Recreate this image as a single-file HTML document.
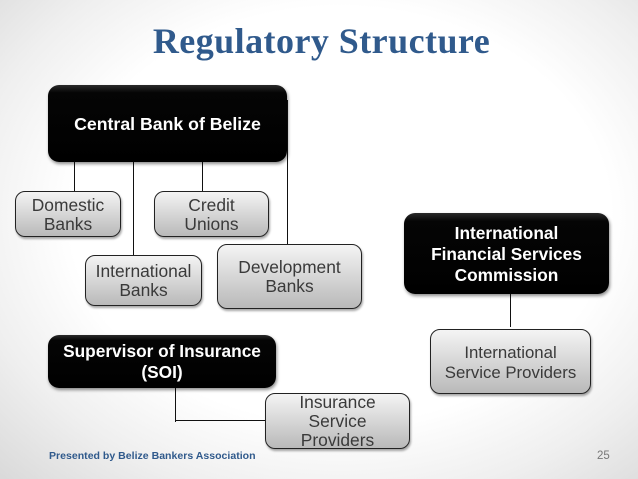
<!DOCTYPE html>
<html><head><meta charset="utf-8"><style>
html,body{margin:0;padding:0;background:#fff}
#s{position:relative;width:638px;height:479px;overflow:hidden;font-family:"Liberation Sans",sans-serif;
background:radial-gradient(ellipse 520px 400px at 340px 215px,#fff 0%,#fff 52%,#efefef 72%,#d2d2d2 100%)}
.b{position:absolute;box-sizing:border-box;display:flex;align-items:center;justify-content:center;text-align:center}
.k{background:linear-gradient(#2a2a2a 0,#050505 10%,#000 100%);border-radius:11px;color:#fff;font-weight:bold;font-size:17.3px;line-height:21px;box-shadow:1px 2px 3px rgba(0,0,0,.45)}
.g{background:linear-gradient(#f4f4f4,#b9b9b9);border:1.3px solid #222;border-radius:10px;color:#3a3a3a;font-size:17.4px;line-height:20px;box-shadow:1px 2px 2px rgba(0,0,0,.35)}
.l{position:absolute;background:#111}
</style></head><body><div id="s">
<div style="position:absolute;left:0;top:16px;width:643px;text-align:center;font-family:'Liberation Serif',serif;font-weight:bold;font-size:36px;line-height:50px;letter-spacing:.45px;color:#305a8c">Regulatory Structure</div>

<div class="l" style="left:74px;top:160px;width:1px;height:32px"></div>
<div class="l" style="left:133px;top:160px;width:1px;height:96px"></div>
<div class="l" style="left:202px;top:160px;width:1px;height:32px"></div>
<div class="l" style="left:287px;top:100px;width:1px;height:146px"></div>
<div class="l" style="left:510px;top:290px;width:1px;height:37px"></div>
<div class="l" style="left:175px;top:385px;width:1px;height:37px"></div>
<div class="l" style="left:175px;top:420px;width:94px;height:1px"></div>

<div class="b k" style="left:48px;top:85px;width:239px;height:77px;font-size:17.7px;padding-top:2px">Central Bank of Belize</div>
<div class="b g" style="left:15px;top:191px;width:106px;height:46px;padding-top:2px;line-height:19.5px">Domestic<br>Banks</div>
<div class="b g" style="left:154px;top:191px;width:115px;height:46px;padding-top:2px;line-height:19.5px">Credit<br>Unions</div>
<div class="b g" style="left:85px;top:255px;width:117px;height:51px;padding-top:1px;line-height:19.5px">International<br>Banks</div>
<div class="b g" style="left:217px;top:244px;width:145px;height:65px;padding-top:1px;line-height:19.5px">Development<br>Banks</div>
<div class="b k" style="left:404px;top:213px;width:205px;height:81px;padding-top:2px">International<br>Financial Services<br>Commission</div>
<div class="b g" style="left:430px;top:329px;width:161px;height:65px;padding-top:2px;font-size:16.8px;line-height:19.5px">International<br>Service Providers</div>
<div class="b k" style="left:48px;top:335px;width:228px;height:53px;padding-top:1px">Supervisor of Insurance<br>(SOI)</div>
<div class="b g" style="left:265px;top:393px;width:145px;height:56px;line-height:19px;padding-top:1px">Insurance<br>Service<br>Providers</div>

<div style="position:absolute;left:49px;top:449px;font-weight:bold;font-size:10.55px;line-height:14px;color:#305a8c">Presented by Belize Bankers Association</div>
<div style="position:absolute;left:597px;top:449px;font-size:11.5px;line-height:14px;color:#777">25</div>
</div></body></html>
